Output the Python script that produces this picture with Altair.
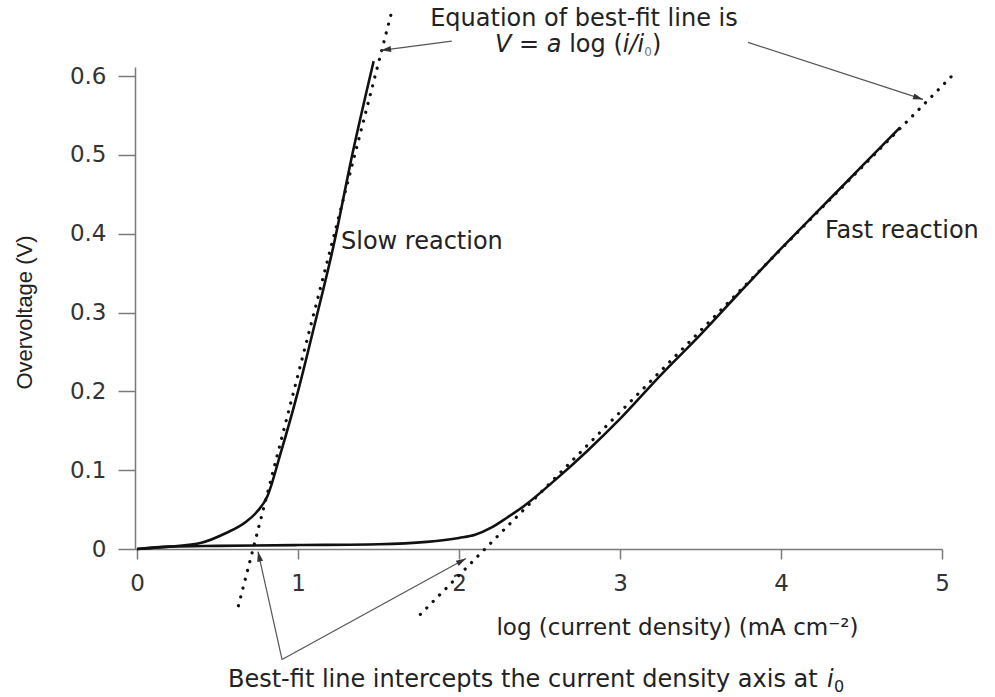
import math
import altair as alt
import pandas as pd

# ---------------- data ----------------
slow_x = [0.0, 0.2, 0.4, 0.55, 0.68, 0.74, 0.81, 0.89, 1.0, 1.1, 1.22, 1.34, 1.47]
slow_y = [0.0, 0.003, 0.008, 0.02, 0.035, 0.046, 0.067, 0.12, 0.2, 0.282, 0.384, 0.503, 0.619]

fast_x = [0.0, 0.2, 0.5, 1.0, 1.5, 1.8, 2.0, 2.1, 2.2, 2.3, 2.4, 2.6, 2.8, 3.0, 3.25,
          3.5, 3.75, 4.0, 4.25, 4.5, 4.74]
fast_y = [0.0, 0.003, 0.004, 0.005, 0.006, 0.009, 0.014, 0.018, 0.027, 0.040, 0.054,
          0.088, 0.125, 0.165, 0.22, 0.272, 0.327, 0.381, 0.433, 0.485, 0.535]

fit_slow_x = [0.63, 1.59]
fit_slow_y = [-0.072, 0.688]
fit_fast_x = [1.76, 5.09]
fit_fast_y = [-0.083, 0.606]

x_ticks = [0, 1, 2, 3, 4, 5]
y_ticks = [0.0, 0.1, 0.2, 0.3, 0.4, 0.5, 0.6]

# ---------------- layout ----------------
X_DOMAIN = [-0.0124, 5.0]
Y_DOMAIN = [0.0, 0.6115]
W, H = 807, 482
PX = W / (X_DOMAIN[1] - X_DOMAIN[0])
PY = H / (Y_DOMAIN[1] - Y_DOMAIN[0])

FONT = "DejaVu Sans"
TXT = "#222222"
AXC = "#7a7a7a"

xs = alt.Scale(domain=X_DOMAIN, nice=False, zero=False)
ys = alt.Scale(domain=Y_DOMAIN, nice=False, zero=False)

x_axis = alt.Axis(
    values=x_ticks, title="log (current density) (mA cm⁻²)", grid=False,
    tickSize=10, labelPadding=13, labelFont=FONT, labelFontSize=23, labelColor="#333333",
    domainColor=AXC, tickColor=AXC, domainWidth=1.5, tickWidth=1.5,
    titleFont=FONT, titleFontSize=23, titleFontWeight="normal", titleColor=TXT,
    titleX=542, titleY=78, titleAlign="center", titleBaseline="middle",
    labelFlush=False, labelOverlap=False,
)
y_axis = alt.Axis(
    values=y_ticks, title="Overvoltage (V)", grid=False,
    labelExpr="datum.value == 0 ? '0' : format(datum.value, '.1f')",
    tickSize=17, labelPadding=12, labelFont=FONT, labelFontSize=23, labelColor="#333333",
    domainColor=AXC, tickColor=AXC, domainWidth=1.5, tickWidth=1.5,
    titleFont="Liberation Sans", titleFontSize=22, titleFontWeight="normal", titleColor=TXT,
    titleX=-111, titleY=245, titleAngle=270, titleAlign="center", titleBaseline="middle",
    labelFlush=False, labelOverlap=False,
)


def X(field):
    return alt.X(field, scale=xs, axis=x_axis)


def Y(field):
    return alt.Y(field, scale=ys, axis=y_axis)


df_slow = pd.DataFrame({"x": slow_x, "y": slow_y})
df_fast = pd.DataFrame({"x": fast_x, "y": fast_y})
df_fit = pd.DataFrame({
    "x": fit_slow_x + fit_fast_x,
    "y": fit_slow_y + fit_fast_y,
    "fit": ["slow"] * len(fit_slow_x) + ["fast"] * len(fit_fast_x),
})

slow = alt.Chart(df_slow).mark_line(color="#111111", strokeWidth=2.6, interpolate="monotone").encode(
    x=X("x:Q"), y=Y("y:Q"),
)
fast = alt.Chart(df_fast).mark_line(color="#111111", strokeWidth=2.6, interpolate="monotone").encode(
    x=X("x:Q"), y=Y("y:Q"),
)
fits = alt.Chart(df_fit).mark_line(color="#111111", strokeWidth=3.2, strokeDash=[0.1, 9],
                                   strokeCap="round").encode(
    x=X("x:Q"), y=Y("y:Q"), detail="fit:N",
)

# ---------------- annotation arrows (data coordinates) ----------------
arrows = [
    # (x_start, y_start, x_tip, y_tip)
    (1.955, 0.6444, 1.516, 0.6326),
    (3.795, 0.6428, 4.882, 0.5704),
    (0.901, -0.1402, 0.7516, -0.0032),
    (0.901, -0.1402, 2.0435, -0.0121),
]
rows = []
for xs0, ys0, xt, yt in arrows:
    dxp = (xt - xs0) * PX
    dyp = -(yt - ys0) * PY
    ang = math.degrees(math.atan2(dxp, -dyp)) % 360
    rows.append({"x": xs0, "y": ys0, "x2": xt, "y2": yt, "angle": ang})
df_arr = pd.DataFrame(rows)

arrow_lines = alt.Chart(df_arr).mark_rule(color="#555555", strokeWidth=1.2).encode(
    x=X("x:Q"), y=Y("y:Q"), x2="x2:Q", y2="y2:Q",
)
arrow_heads = alt.Chart(df_arr).mark_point(
    shape="M0,0 L0.6,2 L-0.6,2 Z", filled=True, size=100, color="#333333", opacity=1
).encode(
    x=X("x2:Q"), y=Y("y2:Q"),
    angle=alt.Angle("angle:Q", scale=None),
)

# ---------------- annotation texts ----------------
def text_piece(txt, x, y, size=24, style="normal", align="left", baseline="alphabetic", dx=0, dy=0,
               color=TXT):
    d = pd.DataFrame({"x": [x], "y": [y], "t": [txt]})
    return alt.Chart(d).mark_text(
        font=FONT, fontSize=size, fontStyle=style, align=align, baseline=baseline,
        dx=dx, dy=dy, color=color,
    ).encode(x=X("x:Q"), y=Y("y:Q"), text="t:N")


texts = []
texts.append(text_piece("Equation of best-fit line is", 2.776, 0.663, align="center"))
# second line: V = a log (i/i0)
eq_x, eq_y = 2.224, 0.630
for t, off, st, sz, ddy, col in [
    ("V", 0, "italic", 24, 0, TXT),
    ("=", 24.0, "normal", 24, 0, TXT),
    ("a", 51.8, "italic", 24, 0, TXT),
    ("log (", 74.1, "normal", 24, 0, TXT),
    ("i/i", 127.7, "italic", 24, 0, TXT),
    ("0", 149.1, "normal", 12, 4, "#777777"),
    (")", 157.0, "normal", 24, 0, TXT),
]:
    texts.append(text_piece(t, eq_x, eq_y, size=sz, style=st, dx=off, dy=ddy, color=col))

texts.append(text_piece("Slow reaction", 1.267, 0.380))
texts.append(text_piece("Fast reaction", 4.273, 0.395))

bx, by = 0.565, -0.1745
texts.append(text_piece("Best-fit line intercepts the current density axis at", bx, by))
texts.append(text_piece("i", bx, by, style="italic", dx=599))
texts.append(text_piece("0", bx, by, size=16, dx=606, dy=5))

chart = alt.layer(slow, fast, fits, arrow_lines, arrow_heads, *texts).properties(
    width=W, height=H,
    padding={"left": 135, "top": 67, "right": 53, "bottom": 148},
    autosize=alt.AutoSizeParams(type="none"),
    background="white",
).configure_view(stroke=None)

chart.save("out.html", embed_options={"renderer": "svg", "actions": False})
